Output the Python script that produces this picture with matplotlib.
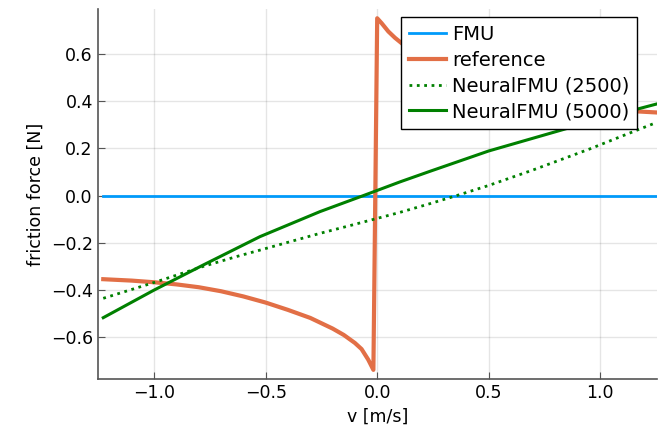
import matplotlib.pyplot as plt

# FMU (blue, flat)
v_fmu = [-1.228, 1.253]
f_fmu = [0.0, 0.0]

# reference (Stribeck-like friction)
v_ref = [-1.228, -1.1, -1.0, -0.9, -0.8, -0.7, -0.6, -0.5, -0.4, -0.3, -0.2, -0.15,
         -0.1, -0.07, -0.04, -0.017, 0.0, 0.02, 0.05, 0.08, 0.11, 0.15, 0.2, 0.3,
         0.4, 0.5, 0.6, 0.7, 0.8, 0.9, 1.0, 1.1, 1.253]
f_ref = [-0.354, -0.360, -0.367, -0.376, -0.388, -0.405, -0.427, -0.453, -0.484,
         -0.518, -0.563, -0.590, -0.624, -0.650, -0.695, -0.738, 0.751, 0.73, 0.695,
         0.668, 0.645, 0.615, 0.58, 0.53, 0.49, 0.458, 0.43, 0.408, 0.39, 0.377,
         0.367, 0.36, 0.352]

# NeuralFMU after 2500 steps (dotted)
v_n2500 = [-1.228, -1.0, -0.78, -0.63, -0.526, -0.257, -0.122, 0.102, 0.237,
           0.356, 0.5, 0.7, 0.82, 0.954, 1.1, 1.253]
f_n2500 = [-0.435, -0.368, -0.300, -0.258, -0.231, -0.160, -0.127, -0.071, -0.034,
           0.0, 0.043, 0.109, 0.151, 0.198, 0.253, 0.31]

# NeuralFMU after 5000 steps (solid)
v_n5000 = [-1.228, -1.0, -0.78, -0.526, -0.257, -0.062, 0.102, 0.237, 0.5, 0.82,
           1.0, 1.253]
f_n5000 = [-0.517, -0.400, -0.294, -0.174, -0.068, 0.0, 0.058, 0.103, 0.189, 0.276,
           0.325, 0.388]

plt.rcParams['font.family'] = ['DejaVu Sans']

fig = plt.figure(figsize=(6.6, 4.34), dpi=100)
ax = fig.add_axes([0.148, 0.126, 0.847, 0.8526])

ax.plot(v_fmu, f_fmu, color='#009AFA', lw=2, label='FMU')
ax.plot(v_ref, f_ref, color='#E26F46', lw=3, label='reference')
ax.plot(v_n2500, f_n2500, color='green', lw=2, ls=':', label='NeuralFMU (2500)')
ax.plot(v_n5000, f_n5000, color='green', lw=2.2, label='NeuralFMU (5000)')

ax.set_xlim(-1.253, 1.253)
ax.set_ylim(-0.778, 0.789)
ax.set_xticks([-1.0, -0.5, 0.0, 0.5, 1.0])
ax.set_yticks([-0.6, -0.4, -0.2, 0.0, 0.2, 0.4, 0.6])
ax.set_xlabel('v [m/s]', fontsize=12.5)
ax.set_ylabel('friction force [N]', fontsize=12.5)

ax.grid(True, color='black', alpha=0.1, lw=1)
ax.spines['top'].set_visible(False)
ax.spines['right'].set_visible(False)
for s in ['left', 'bottom']:
    ax.spines[s].set_color('#555555')
    ax.spines[s].set_linewidth(1.2)
ax.tick_params(direction='in', length=5, color='#555555', labelsize=12.5)

leg = ax.legend(loc='upper right', bbox_to_anchor=(0.965, 0.979), fontsize=14,
                fancybox=False, framealpha=1, edgecolor='black', borderaxespad=0,
                handlelength=1.9, borderpad=0.4, labelspacing=0.35, handletextpad=0.3)
leg.get_frame().set_linewidth(1)

fig.savefig('out.png')
